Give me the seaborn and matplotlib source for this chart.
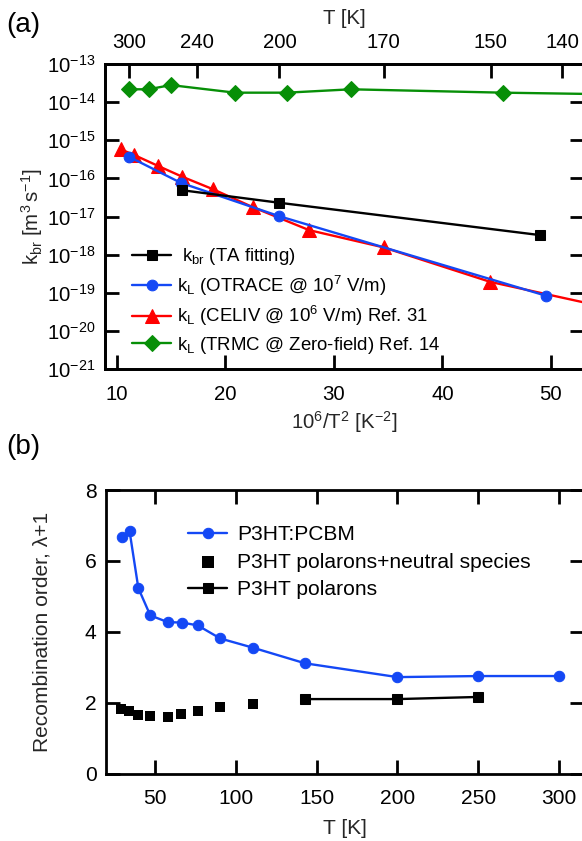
import numpy as np
import pandas as pd
import matplotlib
matplotlib.use("Agg")
import matplotlib.pyplot as plt
import seaborn as sns

# ---------------- data (panel a): x = 10^6/T^2 [K^-2], y = k [m^3 s^-1]
kbr_x = [16.0, 25.0, 49.0]
kbr_y = [4.9e-17, 2.29e-17, 3.25e-18]

otrace_x = [11.14, 15.9, 24.97, 49.58]
otrace_y = [3.69e-16, 7.67e-17, 1.02e-17, 8.3e-20]

celiv_x = [10.38, 11.63, 13.79, 16.06, 18.91, 22.6, 27.73, 34.58, 44.41, 59.2]
celiv_y = [5.77e-16, 4.09e-16, 2.14e-16, 1.10e-16, 5.14e-17, 1.73e-17, 4.39e-18,
           1.55e-18, 1.93e-19, 2.3e-20]

trmc_x = [11.16, 12.94, 14.99, 20.9, 25.67, 31.58, 45.6, 69.4]
trmc_y = [2.17e-14, 2.17e-14, 2.8e-14, 1.77e-14, 1.77e-14, 2.17e-14, 1.77e-14, 1.4e-14]

top_T_ticks = [300, 240, 200, 170, 150, 140]
bottom_x_ticks = [10, 20, 30, 40, 50]
y_decades = [-21, -20, -19, -18, -17, -16, -15, -14, -13]

# ---------------- data (panel b): T [K] vs recombination order
pcbm_T = [29.4, 34.3, 39.7, 47.1, 58.0, 66.7, 76.4, 90.4, 110.6, 142.8, 200, 250, 300]
pcbm_v = [6.67, 6.83, 5.23, 4.46, 4.27, 4.26, 4.18, 3.81, 3.55, 3.11, 2.72, 2.75, 2.75]

neutral_T = [29.0, 33.9, 39.5, 46.9, 58.2, 66.3, 76.4, 90.4, 110.5]
neutral_v = [1.81, 1.77, 1.64, 1.62, 1.60, 1.67, 1.77, 1.87, 1.97]

polaron_T = [142.8, 200, 250]
polaron_v = [2.10, 2.10, 2.16]

b_x_ticks = [50, 100, 150, 200, 250, 300]
b_y_ticks = [0, 2, 4, 6, 8]

# ---------------- style
sns.set_style("ticks")
FA = 14.7   # panel (a) ticks / labels
FL = 13.4   # panel (a) legend
FB = 15.1   # panel (b)
plt.rcParams["font.family"] = ["Liberation Sans", "DejaVu Sans"]
plt.rcParams["mathtext.fontset"] = "custom"
plt.rcParams["mathtext.rm"] = "Liberation Sans"
plt.rcParams["mathtext.it"] = "Liberation Sans:italic"
plt.rcParams["mathtext.default"] = "regular"
plt.rcParams["axes.linewidth"] = 2.0
plt.rcParams["xtick.direction"] = "in"
plt.rcParams["ytick.direction"] = "in"
plt.rcParams["xtick.major.size"] = 10
plt.rcParams["ytick.major.size"] = 10
plt.rcParams["xtick.major.width"] = 2.0
plt.rcParams["ytick.major.width"] = 2.0
plt.rcParams["axes.edgecolor"] = "black"
plt.rcParams["text.color"] = "black"
plt.rcParams["xtick.color"] = "black"
plt.rcParams["ytick.color"] = "black"

BLUE = "#1448F5"
RED = "#FF0000"
GREEN = "#078F07"
BLACK = "#000000"

fig = plt.figure(figsize=(5.82, 8.41), dpi=100)

# ================= panel (a)
axA = fig.add_axes([105 / 582, 1 - 369 / 841, 478.5 / 582, 305 / 841])
axA.set_yscale("log")

df_trmc = pd.DataFrame({"x": trmc_x, "y": trmc_y})
df_celiv = pd.DataFrame({"x": celiv_x, "y": celiv_y})
df_otrace = pd.DataFrame({"x": otrace_x, "y": otrace_y})
df_kbr = pd.DataFrame({"x": kbr_x, "y": kbr_y})

lw = 1.7
sns.lineplot(data=df_trmc, x="x", y="y", ax=axA, color=GREEN, marker="D", markersize=8.5,
             markeredgecolor=GREEN, linewidth=lw, estimator=None, sort=False,
             label=r"$k_{L}$ (TRMC @ Zero-field) Ref. 14")
sns.lineplot(data=df_celiv, x="x", y="y", ax=axA, color=RED, marker="^", markersize=9.5,
             markeredgecolor=RED, linewidth=lw, estimator=None, sort=False,
             label=r"$k_{L}$ (CELIV @ $10^{6}$ V/m) Ref. 31")
sns.lineplot(data=df_otrace, x="x", y="y", ax=axA, color=BLUE, marker="o", markersize=7.7,
             markeredgecolor=BLUE, linewidth=lw, estimator=None, sort=False,
             label=r"$k_{L}$ (OTRACE @ $10^{7}$ V/m)")
sns.lineplot(data=df_kbr, x="x", y="y", ax=axA, color=BLACK, marker="s", markersize=7.5,
             markeredgecolor=BLACK, linewidth=lw, estimator=None, sort=False,
             label=r" $k_{br}$ (TA fitting)")

axA.set_xlim(8.93, 53.0)
axA.set_ylim(1e-21, 1e-13)
axA.set_yticks([10.0 ** d for d in y_decades])
axA.set_yticklabels([r"$10^{%d}$" % d for d in y_decades])
axA.yaxis.set_minor_locator(matplotlib.ticker.NullLocator())
axA.set_xticks(bottom_x_ticks)
axA.set_xticklabels([str(v) for v in bottom_x_ticks])
axA.tick_params(axis="y", which="both", left=True, right=True, labelsize=FA, pad=7)
axA.tick_params(axis="x", which="both", top=False, bottom=True, labelsize=FA, pad=11.5)
axA.set_xlabel(r"$10^{6}/T^{2}$ [$K^{-2}$]", labelpad=4, fontsize=FA)
axA.set_ylabel(r"$k_{br}$ [$m^{3}\,s^{-1}$]", labelpad=1, fontsize=FA)
for s in axA.spines.values():
    s.set_visible(True)

axT = axA.twiny()
axT.set_xlim(axA.get_xlim())
axT.set_xticks([1e6 / t ** 2 for t in top_T_ticks])
axT.set_xticklabels([str(t) for t in top_T_ticks])
axT.tick_params(axis="x", top=True, direction="in", pad=8.4, labelsize=FA)
axT.set_xlabel("T [K]", labelpad=6.5, fontsize=FA)
for s in axT.spines.values():
    s.set_visible(True)

h, l = axA.get_legend_handles_labels()
order = [3, 2, 1, 0]
axA.legend([h[i] for i in order], [l[i] for i in order], loc="lower left",
           bbox_to_anchor=(0.03, 0.0), frameon=False, handlelength=2.1,
           handletextpad=0.3, labelspacing=0.35, borderaxespad=0.3, fontsize=FL)

# ================= panel (b)
axB = fig.add_axes([105.7 / 582, 1 - 773.5 / 841, 477.9 / 582, 283.5 / 841])

df_pcbm = pd.DataFrame({"T": pcbm_T, "v": pcbm_v})
df_neu = pd.DataFrame({"T": neutral_T, "v": neutral_v})
df_pol = pd.DataFrame({"T": polaron_T, "v": polaron_v})

sns.lineplot(data=df_pcbm, x="T", y="v", ax=axB, color=BLUE, marker="o", markersize=7.5,
             markeredgecolor=BLUE, linewidth=lw, estimator=None, sort=False,
             label="P3HT:PCBM")
sns.scatterplot(data=df_neu, x="T", y="v", ax=axB, color=BLACK, marker="s", s=52,
                edgecolor=BLACK, linewidth=0, label="P3HT polarons+neutral species")
sns.lineplot(data=df_pol, x="T", y="v", ax=axB, color=BLACK, marker="s", markersize=7.2,
             markeredgecolor=BLACK, linewidth=lw, estimator=None, sort=False,
             label="P3HT polarons")

axB.set_xlim(19.5, 315.2)
axB.set_ylim(0, 8)
axB.set_xticks(b_x_ticks)
axB.set_yticks(b_y_ticks)
axB.tick_params(axis="x", top=True, bottom=True, labelsize=FB, pad=11)
axB.tick_params(axis="y", right=True, left=True, labelsize=FB, pad=6.5)
axB.set_xlabel("T [K]", labelpad=8, fontsize=FB)
axB.set_ylabel("Recombination order, λ+1", labelpad=24, fontsize=FB)
for s in axB.spines.values():
    s.set_visible(True)

leg = axB.legend(loc="upper left", bbox_to_anchor=(0.155, 0.905), frameon=False,
                 handlelength=1.85, handletextpad=0.47, labelspacing=0.4,
                 borderaxespad=0.0, fontsize=FB)
for hnd in leg.legend_handles:
    try:
        hnd.set_sizes([80])
    except AttributeError:
        pass

fig.text(6 / 582, 1 - 25 / 841, "(a)", fontsize=20, va="center", ha="left")
fig.text(6 / 582, 1 - 447 / 841, "(b)", fontsize=20, va="center", ha="left")

fig.savefig("out.png", dpi=100)
